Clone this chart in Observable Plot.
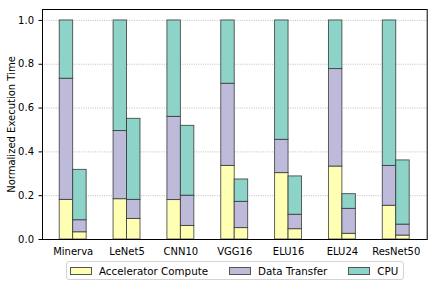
<!DOCTYPE html>
<html><head><meta charset="utf-8">
<script src="https://cdn.jsdelivr.net/npm/d3@7"></script>
<script src="https://cdn.jsdelivr.net/npm/@observablehq/plot@0.6"></script>
<style>
body{margin:0;background:#fff;font-family:"DejaVu Sans",sans-serif;}
#wrap{position:relative;width:436px;height:286px;background:#fff;}
#wrap svg{display:block;}
.legend{position:absolute;left:66px;top:261px;width:338px;height:19px;box-sizing:border-box;border:1px solid #d4d4d4;border-radius:3px;display:flex;align-items:center;font-size:10.3px;color:#000;font-family:"DejaVu Sans",sans-serif;}
.item{display:flex;align-items:center;margin-left:21px;}
.item:first-child{margin-left:3px;}
.sw{width:20px;height:6px;border:1px solid #555;margin-right:7px;}
</style></head><body><div id="wrap"></div>
<script>
const groups = ["Minerva","LeNet5","CNN10","VGG16","ELU16","ELU24","ResNet50"];
const seriesNames = ["Accelerator Compute","Data Transfer","CPU"];
const seriesColors = ["#ffffb3","#bebada","#8dd3c7"];
// tall (baseline) bars
const accelTall    = [0.181,0.184,0.180,0.336,0.303,0.333,0.154];
const transferTall = [0.553,0.311,0.380,0.375,0.152,0.445,0.182];
const cpuTall      = [0.266,0.505,0.440,0.289,0.545,0.222,0.664];
// short (optimized) bars
const accelShort    = [0.033,0.094,0.062,0.052,0.047,0.026,0.018];
const transferShort = [0.055,0.087,0.138,0.120,0.066,0.114,0.050];
const cpuShort      = [0.230,0.370,0.319,0.102,0.175,0.067,0.293];
const yTicks = [0,0.2,0.4,0.6,0.8,1.0];

const rows = [];
groups.forEach((g, i) => {
  [[accelTall, transferTall, cpuTall], [accelShort, transferShort, cpuShort]].forEach((arrs, b) => {
    arrs.forEach((arr, s) => rows.push({group: g, gi: i, bar: b, series: seriesNames[s], value: arr[i]}));
  });
});

const stacked = Plot.stackY({x: d => d.gi * 2 + d.bar, y: "value", fill: "series"});
const {x: _ignored, ...rectOpts} = stacked;

const chart = Plot.plot({
  width: 436, height: 258,
  marginLeft: 42, marginRight: 9.3, marginTop: 9, marginBottom: 19,
  style: {fontFamily: "DejaVu Sans", fontSize: "10px", color: "#000", background: "#fff"},
  x: {domain: [-0.57, 6.575]},
  y: {domain: [0, 1.05]},
  color: {domain: seriesNames, range: seriesColors},
  marks: [
    Plot.gridY(yTicks, {stroke: "#b0b0b0", strokeOpacity: 1, strokeDasharray: "1,1.3", strokeWidth: 0.8}),
    Plot.rectY(rows, {...rectOpts,
      x1: d => d.gi - 0.25 + 0.25 * d.bar,
      x2: d => d.gi + 0.25 * d.bar,
      stroke: "#333", strokeOpacity: 0.85, strokeWidth: 0.9}),
    Plot.axisY(yTicks, {tickFormat: d => d.toFixed(1), tickSize: 3.5, tickPadding: 5,
      label: "Normalized Execution Time", labelAnchor: "center", labelArrow: false, labelOffset: 35}),
    Plot.axisX(d3.range(groups.length), {tickFormat: i => groups[i], tickSize: 0, tickPadding: 8, label: null}),
    Plot.frame({stroke: "#000", strokeWidth: 1})
  ]
});
const wrap = document.getElementById("wrap");
wrap.appendChild(chart);
const leg = document.createElement("div");
leg.className = "legend";
seriesNames.forEach((s, k) => {
  const it = document.createElement("div"); it.className = "item";
  const sw = document.createElement("div"); sw.className = "sw"; sw.style.background = seriesColors[k];
  const tx = document.createElement("span"); tx.textContent = s;
  it.appendChild(sw); it.appendChild(tx); leg.appendChild(it);
});
wrap.appendChild(leg);
</script></body></html>
